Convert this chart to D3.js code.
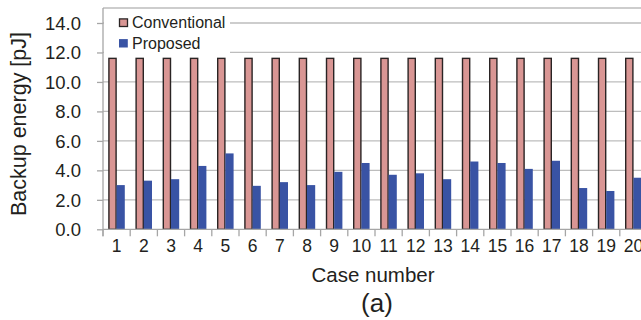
<!DOCTYPE html>
<html>
<head>
<meta charset="utf-8">
<script src="https://cdn.jsdelivr.net/npm/d3@7"></script>
<style>
  body { margin: 0; background: #fff; }
  svg { display: block; font-family: Arial, "Liberation Sans", sans-serif; }
</style>
</head>
<body>
<div id="chart"></div>
<script>
// data
const cases = d3.range(1, 21).map(String);
const seriesNames = ['Conventional', 'Proposed'];
const conventional = [11.6, 11.6, 11.6, 11.6, 11.6, 11.6, 11.6, 11.6, 11.6, 11.6,
                      11.6, 11.6, 11.6, 11.6, 11.6, 11.6, 11.6, 11.6, 11.6, 11.6];
const proposed = [3.0, 3.3, 3.4, 4.3, 5.15, 2.95, 3.2, 3.0, 3.9, 4.5,
                  3.7, 3.8, 3.4, 4.6, 4.5, 4.1, 4.65, 2.8, 2.6, 3.5];
const yTicks = [0, 2, 4, 6, 8, 10, 12, 14];

const width = 641, height = 320;
const colors = { Conventional: '#d99694', Proposed: '#3953a4' };
const textColor = '#231f20';

const table = cases.map((c, i) => ({ c, Conventional: conventional[i], Proposed: proposed[i] }));

const svg = d3.select('#chart').append('svg')
  .attr('width', width).attr('height', height);

// plot area
const plotLeft = 103, plotRight = 647, plotTop = 8, plotBottom = 229.3;

const x0 = d3.scaleBand(cases, [plotLeft, plotRight]);
const x1 = d3.scaleBand(seriesNames, [0, x0.bandwidth()]).paddingOuter(0.66);
const y = d3.scaleLinear([0, 14], [plotBottom, 23]);

// gridlines
svg.append('g')
  .selectAll('line').data(yTicks.slice(1)).join('line')
  .attr('x1', plotLeft).attr('x2', plotRight)
  .attr('y1', d => y(d)).attr('y2', d => y(d))
  .attr('stroke', '#bdbdbd').attr('stroke-width', 1.3);

// plot area top border
svg.append('line')
  .attr('x1', plotLeft).attr('x2', plotRight).attr('y1', plotTop).attr('y2', plotTop)
  .attr('stroke', '#bdbdbd').attr('stroke-width', 1.3);

// bars
const groups = svg.append('g').selectAll('g').data(table).join('g')
  .attr('transform', d => `translate(${x0(d.c)},0)`);

groups.selectAll('rect').data(d => seriesNames.map(k => ({ k, v: d[k] }))).join('rect')
  .attr('x', d => x1(d.k) + (d.k === 'Conventional' ? 0.5 : 0))
  .attr('width', d => x1.bandwidth() - (d.k === 'Conventional' ? 1 : 0))
  .attr('y', d => y(d.v))
  .attr('height', d => plotBottom - y(d.v))
  .attr('fill', d => colors[d.k])
  .attr('stroke', d => d.k === 'Conventional' ? '#2a2424' : 'none')
  .attr('stroke-width', 1.4);

// y axis
const axisY = svg.append('g')
  .attr('transform', `translate(${plotLeft},0)`)
  .call(d3.axisLeft(y).tickValues(yTicks).tickFormat(d3.format('.1f')).tickSize(6).tickPadding(16));
axisY.select('.domain').attr('d', `M0,${plotTop}V${plotBottom + 7}`).attr('stroke', '#a6a6a6').attr('stroke-width', 1.3);
axisY.selectAll('.tick line').attr('stroke', '#a6a6a6').attr('stroke-width', 1.3);
axisY.selectAll('.tick text')
  .attr('fill', textColor).style('font-size', '18.5px').attr('dy', '0.35em');

// x axis
const axisX = svg.append('g')
  .attr('transform', `translate(0,${plotBottom})`)
  .call(d3.axisBottom(x0).tickSize(0).tickPadding(10));
axisX.select('.domain').attr('d', `M${plotLeft},0H${plotRight}`).attr('stroke', '#a6a6a6').attr('stroke-width', 1.3);
axisX.selectAll('.tick text')
  .attr('fill', textColor).style('font-size', '17.5px');
// separators between categories
axisX.append('g').selectAll('line').data(cases).join('line')
  .attr('x1', d => x0(d)).attr('x2', d => x0(d))
  .attr('y1', 0).attr('y2', 7)
  .attr('stroke', '#a6a6a6').attr('stroke-width', 1.3);

// axis titles
svg.append('text')
  .attr('transform', `translate(26,${(28 + 220) / 2}) rotate(-90)`)
  .attr('text-anchor', 'middle')
  .attr('fill', textColor).style('font-size', '21.5px')
  .text('Backup energy [pJ]');

svg.append('text')
  .attr('x', 373).attr('y', 281.5)
  .attr('text-anchor', 'middle')
  .attr('fill', textColor).style('font-size', '20.5px')
  .text('Case number');

svg.append('text')
  .attr('x', 377).attr('y', 312)
  .attr('text-anchor', 'middle')
  .attr('fill', textColor).style('font-size', '26px')
  .text('(a)');

// legend
svg.append('rect')
  .attr('x', plotLeft + 1).attr('y', plotTop + 2).attr('width', 126).attr('height', 45)
  .attr('fill', '#fff');

const legend = svg.append('g').selectAll('g').data(seriesNames).join('g')
  .attr('transform', (d, i) => `translate(119,${22.7 + i * 20.6})`);
legend.append('rect')
  .attr('x', d => d === 'Conventional' ? 0.5 : 0)
  .attr('y', d => d === 'Conventional' ? -3.8 : -4.2)
  .attr('width', d => d === 'Conventional' ? 8 : 8.8)
  .attr('height', d => d === 'Conventional' ? 7.6 : 8.4)
  .attr('fill', d => colors[d])
  .attr('stroke', d => d === 'Conventional' ? '#2a2424' : 'none')
  .attr('stroke-width', 1.3);
legend.append('text')
  .attr('x', 13).attr('dy', '0.36em')
  .attr('fill', textColor).style('font-size', '16px')
  .text(d => d);
</script>
</body>
</html>
